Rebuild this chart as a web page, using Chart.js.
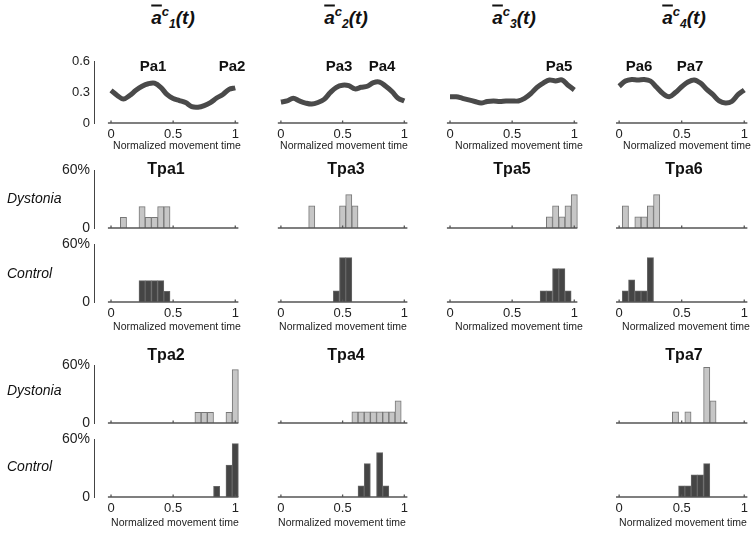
<!DOCTYPE html>
<html><head><meta charset="utf-8">
<script src="https://cdn.jsdelivr.net/npm/chart.js@4"></script>
<style>
body{margin:0;background:#fff;width:754px;height:534px;position:relative;overflow:hidden;font-family:"Liberation Sans",Arial,sans-serif;color:#222}
canvas{position:absolute}
.t{position:absolute;transform:translate(-50%,-50%);white-space:nowrap;line-height:1}
.ttl{font-style:italic;font-weight:bold;font-size:19px;color:#111}
.ttl .ov{text-decoration:overline;text-decoration-thickness:1.5px}
.ttl .sp{position:relative;top:-8px;font-size:13px}
.ttl .sb{position:relative;top:4px;font-size:12px}
.pa{font-weight:bold;font-size:15px;color:#111}
.tpa{font-weight:bold;font-size:16px;color:#111}
.ax{font-size:10.5px;color:#222}
.rl{position:absolute;transform:translate(0,-50%);font-style:italic;font-size:14px;line-height:1;color:#111;left:7px}
</style></head><body>
<script>
// ---------- data ----------
const timePoints = [0,0.05,0.1,0.15,0.2,0.25,0.3,0.35,0.4,0.45,0.5,0.55,0.6,0.65,0.7,0.75,0.8,0.85,0.9,0.95,1];
const curve1 = [0.32,0.27,0.235,0.27,0.32,0.36,0.385,0.39,0.35,0.28,0.24,0.22,0.20,0.16,0.155,0.17,0.20,0.245,0.28,0.33,0.345];
const curve2 = [0.20,0.21,0.235,0.21,0.19,0.18,0.195,0.225,0.29,0.34,0.36,0.355,0.325,0.34,0.35,0.385,0.39,0.35,0.30,0.235,0.21];
const curve3 = [0.25,0.25,0.235,0.22,0.205,0.19,0.205,0.21,0.205,0.21,0.21,0.21,0.235,0.28,0.34,0.38,0.41,0.40,0.41,0.36,0.315];
const curve4 = [0.35,0.40,0.415,0.41,0.415,0.40,0.34,0.28,0.25,0.29,0.345,0.39,0.41,0.38,0.32,0.27,0.21,0.19,0.205,0.27,0.315];

const binCenters = [0,0.05,0.1,0.15,0.2,0.25,0.3,0.35,0.4,0.45,0.5,0.55,0.6,0.65,0.7,0.75,0.8,0.85,0.9,0.95,1];
const tpa1Dys = [0,0,11.1,0,0,22.2,11.1,11.1,22.2,22.2,0,0,0,0,0,0,0,0,0,0,0];
const tpa1Ctl = [0,0,0,0,0,22.2,22.2,22.2,22.2,11.1,0,0,0,0,0,0,0,0,0,0,0];
const tpa2Dys = [0,0,0,0,0,0,0,0,0,0,0,0,0,0,11.1,11.1,11.1,0,0,11.1,55.6];
const tpa2Ctl = [0,0,0,0,0,0,0,0,0,0,0,0,0,0,0,0,0,11.1,0,33.3,55.6];
const tpa3Dys = [0,0,0,0,0,22.2,0,0,0,0,22.2,33.3,22.2,0,0,0,0,0,0,0,0];
const tpa3Ctl = [0,0,0,0,0,0,0,0,0,11.1,44.4,44.4,0,0,0,0,0,0,0,0,0];
const tpa4Dys = [0,0,0,0,0,0,0,0,0,0,0,0,11.1,11.1,11.1,11.1,11.1,11.1,11.1,22.2,0];
const tpa4Ctl = [0,0,0,0,0,0,0,0,0,0,0,0,0,11.1,33.3,0,44.4,11.1,0,0,0];
const tpa5Dys = [0,0,0,0,0,0,0,0,0,0,0,0,0,0,0,0,11.1,22.2,11.1,22.2,33.3];
const tpa5Ctl = [0,0,0,0,0,0,0,0,0,0,0,0,0,0,0,11.1,11.1,33.3,33.3,11.1,0];
const tpa6Dys = [0,22.2,0,11.1,11.1,22.2,33.3,0,0,0,0,0,0,0,0,0,0,0,0,0,0];
const tpa6Ctl = [0,11.1,22.2,11.1,11.1,44.4,0,0,0,0,0,0,0,0,0,0,0,0,0,0,0];
const tpa7Dys = [0,0,0,0,0,0,0,0,0,11.1,0,11.1,0,0,55.6,22.2,0,0,0,0,0];
const tpa7Ctl = [0,0,0,0,0,0,0,0,0,0,11.1,11.1,22.2,22.2,33.3,0,0,0,0,0,0];

const xTickValues = [0,0.5,1];
const xTickLabels = ['0','0.5','1'];
const curveYTicks = [0,0.3,0.6];
const curveYLabels = ['0','0.3','0.6'];
const histYTicks = [0,60];
const histYLabels = ['0','60%'];
const xLabel = 'Normalized movement time';

// ---------- layout ----------
const COLS = [{x0:111,x1:235},{x0:281,x1:404},{x0:450,x1:574},{x0:619,x1:744}];
const ROWS = {curve:{top:60,bottom:123}, aD:{top:168,bottom:228}, aC:{top:242,bottom:302}, bD:{top:363,bottom:423}, bC:{top:437,bottom:497}};
const XMIN = -0.137, XMAX = 1.03, XLIM_LO = -0.025, XLIM_HI = 1.025;
const FONT = '"Liberation Sans", Arial, sans-serif';
Chart.defaults.font.family = FONT;

const axisLinePlugin = {
  id: 'xAxisLine',
  afterDatasetsDraw(chart) {
    const {ctx, scales:{x, y}} = chart;
    const yy = y.getPixelForValue(0);
    ctx.save();
    ctx.strokeStyle = '#555'; ctx.lineWidth = 1.3;
    ctx.beginPath();
    ctx.moveTo(x.getPixelForValue(XLIM_LO), yy);
    ctx.lineTo(x.getPixelForValue(XLIM_HI), yy);
    xTickValues.forEach(v => { const px = x.getPixelForValue(v); ctx.moveTo(px, yy); ctx.lineTo(px, yy - 2.5); });
    ctx.stroke();
    ctx.restore();
  }
};

function makeChart(o) {
  const c = COLS[o.col], r = ROWS[o.row];
  const ppu = c.x1 - c.x0;
  const areaL = c.x0 + XMIN * ppu, areaR = c.x0 + XMAX * ppu;
  const YW = o.showY ? 40 : 0, PT = 10, PR = 8, XH = 24;
  const left = Math.round(areaL - YW), top = r.top - PT;
  const width = Math.round(areaR + PR) - left;
  const height = PT + (r.bottom - r.top) + XH;
  const cv = document.createElement('canvas');
  cv.width = width; cv.height = height;
  cv.style.left = left + 'px'; cv.style.top = top + 'px';
  document.body.appendChild(cv);
  const isCurve = o.kind === 'curve';
  const yTicks = isCurve ? curveYTicks : histYTicks;
  const yLabels = isCurve ? curveYLabels : histYLabels;
  let datasets;
  if (isCurve) {
    datasets = [{type:'line', data: timePoints.map((t,i)=>({x:t, y:o.values[i]})), borderColor:'#4a4a4a', borderWidth:5, pointRadius:0, tension:0.35, fill:false, borderJoinStyle:'round'}];
  } else {
    datasets = [{type:'bar', data: binCenters.map((b,i)=>({x:b, y: o.values[i] ? o.values[i] : null})),
      backgroundColor: o.dys ? '#c6c6c6' : '#454545', borderColor: o.dys ? '#777' : '#666', borderWidth:1,
      barPercentage:1, categoryPercentage:1, grouped:false}];
  }
  new Chart(cv, {
    data: {datasets},
    plugins: [axisLinePlugin],
    options: {
      responsive:false, animation:false,
      layout:{padding:{top:PT, right:PR, left:0, bottom:0}},
      plugins:{legend:{display:false}, tooltip:{enabled:false}},
      scales:{
        x:{type:'linear', min:XMIN, max:XMAX, offset:false,
          afterFit: s => { s.height = XH; },
          afterBuildTicks: s => { s.ticks = xTickValues.map(v=>({value:v})); },
          ticks:{display: !!o.showXTicks, autoSkip:false, maxRotation:0, padding:4, color:'#222', font:{size:13}, callback:(v,i)=>xTickLabels[i]},
          grid:{display:false, drawTicks:false}, border:{display:false}},
        y:{type:'linear', display: !!o.showY, min:0, max: isCurve ? 0.6 : 60,
          afterFit: s => { s.width = YW; },
          afterBuildTicks: s => { s.ticks = yTicks.map(v=>({value:v})); },
          ticks:{padding:4, color:'#222', font:{size: isCurve ? 13 : 14}, callback:(v,i)=>yLabels[i]},
          grid:{display:false, drawTicks:false}, border:{display:true, color:'#444', width:1}}
      }
    }
  });
}

// curves
[curve1, curve2, curve3, curve4].forEach((vals, i) => makeChart({col:i, row:'curve', kind:'curve', values:vals, showY: i===0, showXTicks:true}));
// histograms row A
[[tpa1Dys,tpa1Ctl],[tpa3Dys,tpa3Ctl],[tpa5Dys,tpa5Ctl],[tpa6Dys,tpa6Ctl]].forEach((p,i) => {
  makeChart({col:i, row:'aD', kind:'hist', values:p[0], dys:true, showY:i===0, showXTicks:false});
  makeChart({col:i, row:'aC', kind:'hist', values:p[1], dys:false, showY:i===0, showXTicks:true});
});
// histograms row B
[[0,tpa2Dys,tpa2Ctl],[1,tpa4Dys,tpa4Ctl],[3,tpa7Dys,tpa7Ctl]].forEach(p => {
  makeChart({col:p[0], row:'bD', kind:'hist', values:p[1], dys:true, showY:p[0]===0, showXTicks:false});
  makeChart({col:p[0], row:'bC', kind:'hist', values:p[2], dys:false, showY:p[0]===0, showXTicks:true});
});

// ---------- text ----------
function addText(cls, html, x, y) {
  const d = document.createElement('div');
  d.className = cls; d.innerHTML = html;
  d.style.left = x + 'px'; d.style.top = y + 'px';
  document.body.appendChild(d);
}
const titleSubs = ['1','2','3','4'];
const titleX = [173, 346, 514, 684];
titleSubs.forEach((s,i) => addText('t ttl', '<span class="ov">a</span><span class="sp">c</span><span class="sb">' + s + '</span>(t)', titleX[i], 17));
const paLabels = ['Pa1','Pa2','Pa3','Pa4','Pa5','Pa6','Pa7'];
const paX = [153, 232, 339, 382, 559, 639, 690];
paLabels.forEach((s,i) => addText('t pa', s, paX[i], 65));
const tpaA = ['Tpa1','Tpa3','Tpa5','Tpa6'], tpaAX = [166, 346, 512, 684];
tpaA.forEach((s,i) => addText('t tpa', s, tpaAX[i], 169));
const tpaB = ['Tpa2','Tpa4','Tpa7'], tpaBX = [166, 346, 684];
tpaB.forEach((s,i) => addText('t tpa', s, tpaBX[i], 355));
[177, 344, 519, 687].forEach(x => addText('t ax', xLabel, x, 145));
[177, 343, 519, 686].forEach(x => addText('t ax', xLabel, x, 326));
[175, 342, 683].forEach(x => addText('t ax', xLabel, x, 522));
[['Dystonia',198],['Control',273],['Dystonia',390],['Control',466]].forEach(p => addText('rl', p[0], 7, p[1]));
</script>
</body></html>
